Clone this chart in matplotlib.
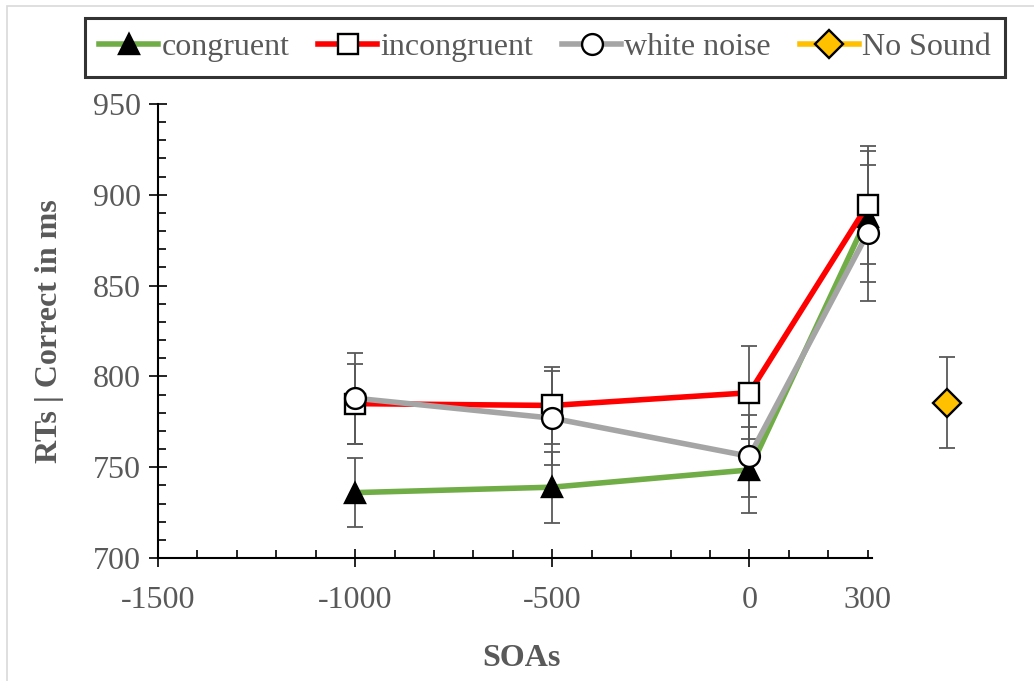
import matplotlib
matplotlib.use("Agg")
import matplotlib.pyplot as plt
from matplotlib.lines import Line2D
from matplotlib.patches import Rectangle
from matplotlib.ticker import FixedLocator, FuncFormatter
import numpy as np

plt.rcParams['font.family'] = ['Liberation Serif', 'DejaVu Serif']
plt.rcParams['axes.unicode_minus'] = False

# data
soas = [-1000, -500, 0, 300]
congruent = [736, 739, 748.5, 888]
congruent_err = [19, 19.5, 23.5, 36]
incongruent = [785, 784, 791, 894.5]
incongruent_err = [22, 21, 25.5, 32.5]
white_noise = [788, 777, 756, 879]
white_noise_err = [25, 26, 22.5, 37.5]
no_sound_x = [500]
no_sound = [785.5]
no_sound_err = [25]

txt = '#595959'
fs = 23

fig = plt.figure(figsize=(10.34, 6.81), dpi=100)
ax = fig.add_axes([158/1034, 123/681, 828/1034, 454/681])

series = [
    (soas, congruent, congruent_err, '#70ad47', '^', 'black', 'congruent'),
    (soas, incongruent, incongruent_err, '#ff0000', 's', 'white', 'incongruent'),
    (soas, white_noise, white_noise_err, '#a5a5a5', 'o', 'white', 'white noise'),
    (no_sound_x, no_sound, no_sound_err, '#ffc000', 'D', '#ffc000', 'No Sound'),
]

handles = []
for i, (x, y, e, col, mk, face, name) in enumerate(series):
    ax.errorbar(x, y, yerr=e, fmt='none', ecolor='#595959', elinewidth=1.3,
                capsize=6, capthick=1.3, zorder=2 + i)
    ms = 15 if mk != 'D' else 14
    ax.plot(x, y, color=col, lw=4, marker=mk, ms=ms, mfc=face, mec='black',
            mew=1.7, zorder=5 + i)
    handles.append(Line2D([], [], color=col, lw=4, marker=mk, ms=ms, mfc=face,
                          mec='black', mew=1.7, label=name))

ax.set_xlim(-1500, 600)
ax.set_ylim(700, 950)

for s in ['top', 'right']:
    ax.spines[s].set_visible(False)
ax.spines['bottom'].set_bounds(-1500, 310)
for s in ['left', 'bottom']:
    ax.spines[s].set_linewidth(1.5)

ax.set_xticks([-1500, -1000, -500, 0])
ax.xaxis.set_minor_locator(FixedLocator([v for v in range(-1400, 301, 100) if v % 500 != 0]))
ax.xaxis.set_minor_formatter(FuncFormatter(lambda v, p: '300' if abs(v - 300) < 1 else ''))
ax.set_yticks(np.arange(700, 951, 50))
ax.yaxis.set_minor_locator(FixedLocator([v for v in range(710, 950, 10) if v % 50 != 0]))

ax.tick_params(which='major', direction='inout', length=13, width=1.2,
               labelsize=fs, labelcolor=txt, pad=14)
ax.tick_params(which='minor', direction='in', length=5.5, width=1.2)
ax.tick_params(axis='x', which='minor', labelsize=fs, labelcolor=txt, pad=20.5)
ax.tick_params(axis='y', which='major', pad=6)

ax.set_xlabel('SOAs', fontsize=fs, fontweight='bold', color=txt)
ax.xaxis.set_label_coords((521 - 158) / 828, -0.19)
ax.set_ylabel('RTs | Correct in ms', fontsize=fs, fontweight='bold', color=txt)
ax.yaxis.set_label_coords(-(158 - 64) / 828, 0.5)

leg = ax.legend(handles=handles, loc='center', bbox_to_anchor=(545/1034, 1 - 47.5/681),
                bbox_transform=fig.transFigure, ncol=4, fontsize=fs, frameon=True,
                fancybox=False, handlelength=1.85, handletextpad=0.1,
                columnspacing=0.9, borderpad=0.45, labelcolor=txt)
leg.get_frame().set_edgecolor('black')
leg.get_frame().set_linewidth(2.2)

fig.patches.append(Rectangle((7/1034, -0.05), 1.2, 1 - 6/681 + 0.05,
                             transform=fig.transFigure, fill=False,
                             edgecolor='#d9d9d9', lw=1.2))

fig.savefig('out.png', dpi=100)
